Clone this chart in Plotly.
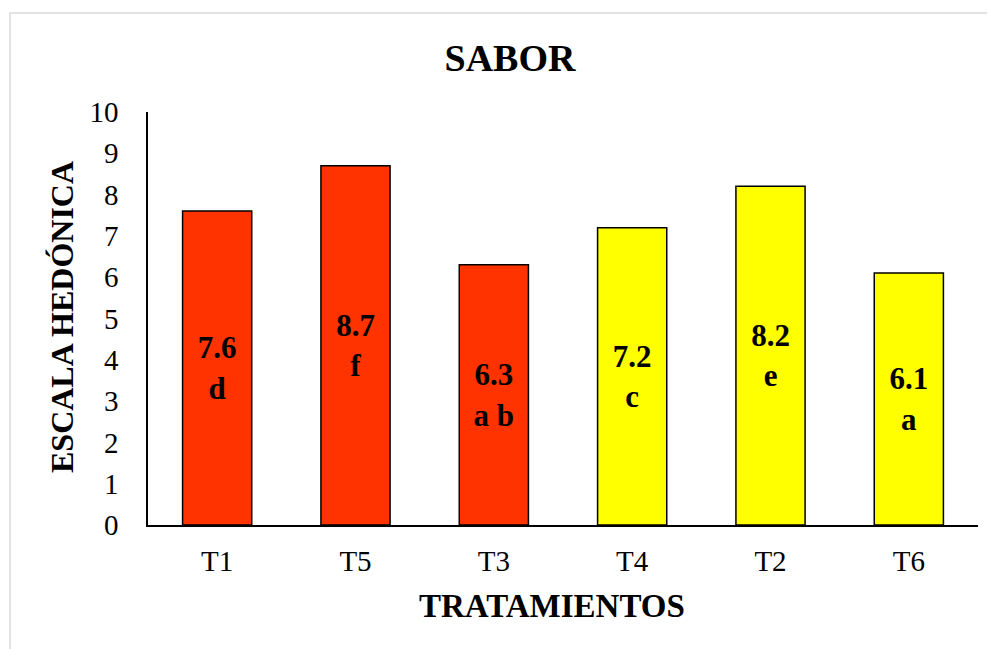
import plotly.graph_objects as go

categories = ["T1", "T5", "T3", "T4", "T2", "T6"]
values = [7.6, 8.7, 6.3, 7.2, 8.2, 6.1]
letters = ["d", "f", "a b", "c", "e", "a"]
colors = ["#FF3300", "#FF3300", "#FF3300", "#FFFF00", "#FFFF00", "#FFFF00"]

W, H = 995, 649
OFF = 8  # page body margin
L, T = 148 - OFF, 112 - OFF
R = W - (978 - OFF)
B = H - (525 - OFF)
pw, ph = W - L - R, H - T - B

FONT = "Liberation Serif, Times New Roman, serif"

labels = [f"{v:.1f}<br>{l}" for v, l in zip(values, letters)]

fig = go.Figure(go.Bar(
    x=categories, y=values,
    marker=dict(color=colors, line=dict(color="black", width=1.5)),
    text=labels, textposition="inside", insidetextanchor="middle",
    textangle=0,
    textfont=dict(family=FONT, size=31, color="black", weight="bold"),
    hoverinfo="skip",
))

def px_x(p):
    return (p - OFF - L) / pw

def px_y(p):
    return (H - B - (p - OFF)) / ph

fig.update_layout(
    width=W, height=H,
    margin=dict(l=L, r=R, t=T, b=B),
    paper_bgcolor="white", plot_bgcolor="white",
    bargap=0.5, showlegend=False,
    font=dict(family=FONT, color="black"),
    title=dict(text="<b>SABOR</b>", x=(510 - OFF) / W, xref="container", xanchor="center",
               y=1 - (58 - OFF) / H, yref="container", yanchor="middle",
               font=dict(family=FONT, size=38, color="black")),
    xaxis=dict(showline=True, linecolor="black", linewidth=1.5, ticks="",
               tickfont=dict(family=FONT, size=29, color="black"),
               ticklabelstandoff=9, showgrid=False, zeroline=False),
    yaxis=dict(range=[0, 10], dtick=1, showline=True, linecolor="black", linewidth=1.5,
               ticks="", tickfont=dict(family=FONT, size=29, color="black"),
               ticklabelstandoff=22, showgrid=False, zeroline=False),
    annotations=[
        dict(text="<b>TRATAMIENTOS</b>", xref="paper", yref="paper",
             x=px_x(552), y=px_y(606), xanchor="center", yanchor="middle",
             showarrow=False, font=dict(family=FONT, size=33, color="black")),
        dict(text="<b>ESCALA HEDÓNICA</b>", xref="paper", yref="paper",
             x=px_x(62), y=px_y(317), xanchor="center", yanchor="middle",
             textangle=-90, showarrow=False,
             font=dict(family=FONT, size=32, color="black")),
    ],
    shapes=[dict(type="rect", xref="paper", yref="paper",
                 x0=px_x(10), x1=px_x(1020), y0=px_y(670), y1=px_y(13),
                 line=dict(color="#D9D9D9", width=1.5), layer="below")],
)

fig.write_html("out.html")
